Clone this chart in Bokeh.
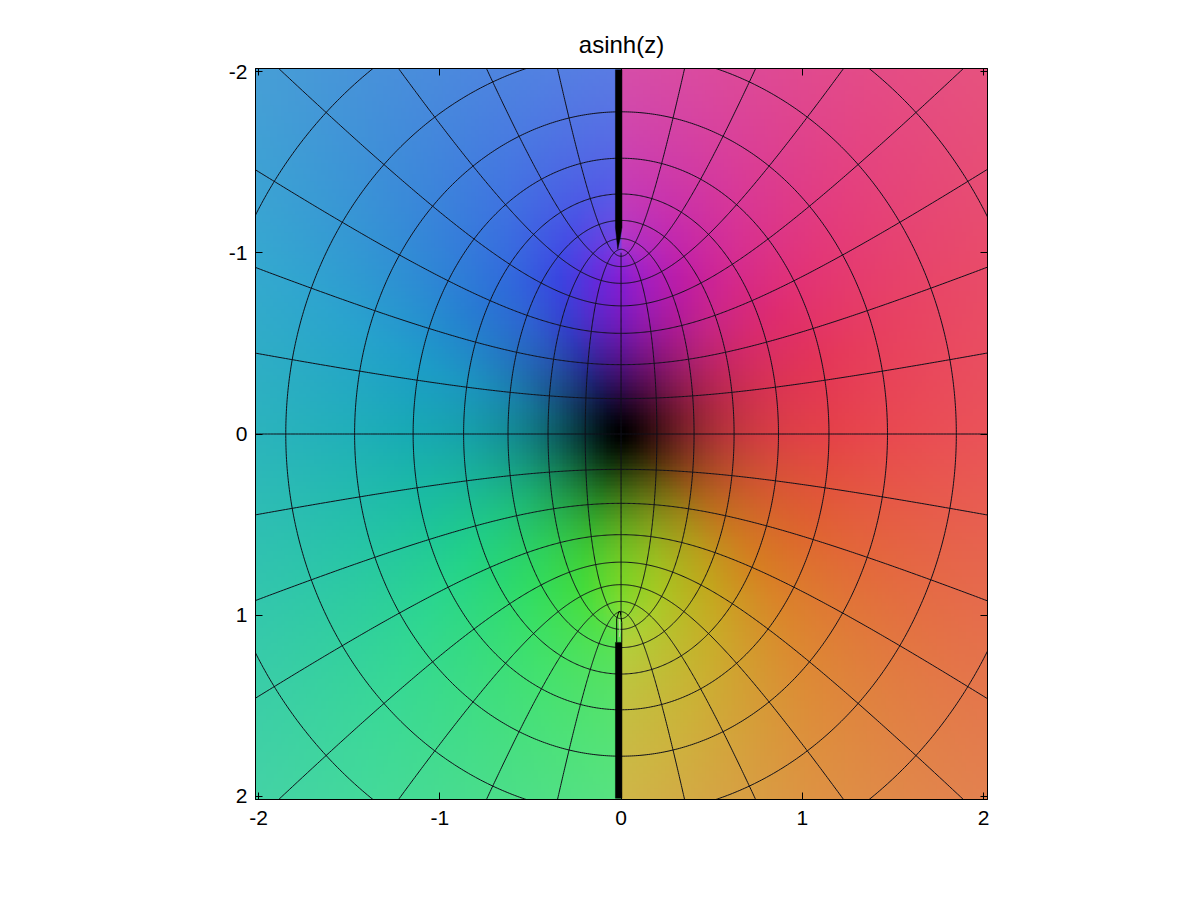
import numpy as np
from bokeh.plotting import figure
from bokeh.models import Range1d, LinearAxis, FixedTicker, Title
from bokeh.embed import file_html
from bokeh.resources import INLINE

title_text = "asinh(z)"
tick_values = [-2, -1, 0, 1, 2]
tick_labels = {-2: "-2", -1: "-1", 0: "0", 1: "1", 2: "2"}
# Contour levels of Re(w) and Im(w), in multiples of pi/16
re_steps = [-9, -8, -7, -6, -5, -4, -3, -2, -1, 0, 1, 2, 3, 4, 5, 6, 7, 8, 9]
im_steps = [-7, -6, -5, -4, -3, -2, -1, 0, 1, 2, 3, 4, 5, 6, 7]
level_unit = np.pi / 16
# Branch cut artefacts (plot coordinates)
cut_top_x = [-0.031, 0.005, 0.005, -0.005, -0.018, -0.031]
cut_top_y = [-2.01, -2.01, -1.14, -1.08, -1.02, -1.14]
cut_bot_x = [-0.031, 0.005, 0.005, -0.031]
cut_bot_y = [1.15, 1.15, 2.01, 2.01]
slit_x = [-0.010, -0.006, -0.010]
slit_y = [1.02, 1.09, 1.12]
slit_left_x = [-0.024, -0.024, -0.012, -0.004, 0.004, 0.004]
slit_left_y = [1.15, 1.02, 0.98, 0.98, 1.04, 1.15]
# Colour: hue angle of w against RGB at moderate |w|
hue_deg = [0, 20, 35, 50, 70, 90, 110, 130, 150, 165, 180, 195, 210, 225, 240, 255, 270, 285, 300, 315, 330, 345, 360]
hue_r = [235, 228, 220, 200, 170, 125, 70, 50, 35, 28, 25, 30, 40, 50, 60, 100, 135, 170, 195, 215, 228, 233, 235]
hue_g = [68, 100, 130, 170, 205, 220, 225, 225, 215, 195, 175, 160, 130, 105, 70, 45, 30, 30, 30, 40, 45, 55, 68]
hue_b = [75, 50, 35, 30, 35, 40, 60, 100, 140, 165, 185, 205, 215, 225, 230, 225, 215, 195, 170, 145, 115, 90, 75]

xmin, xmax = -2.017, 2.022
ymin, ymax = -2.017, 2.017
N = 200

xs = np.linspace(xmin, xmax, N)
ys = np.linspace(ymin, ymax, N)
X, Y = np.meshgrid(xs, ys)
W = np.arcsinh(X + 1j * Y)
r = np.abs(W)
H = np.degrees(np.angle(W)) % 360
F = 1 - np.exp(-(r / 0.42) ** 1.5)
K = np.clip((r - 1.0) * 0.2, 0, 0.4)

img = np.zeros((N, N), dtype=np.uint32)
view = img.view(dtype=np.uint8).reshape((N, N, 4))
for idx, table in enumerate((hue_r, hue_g, hue_b)):
    base = np.interp(H, hue_deg, table)
    view[..., idx] = np.clip((base * (1 - K) + 232 * K) * F, 0, 255).astype(np.uint8)
view[..., 3] = 255

p = figure(width=1184, height=884, output_backend="svg", toolbar_location=None,
           x_range=Range1d(xmin, xmax), y_range=Range1d(ymax, ymin),
           min_border_left=255, min_border_right=197, min_border_top=68, min_border_bottom=85,
           x_axis_location="below", y_axis_location="left")
p.background_fill_color = None
p.border_fill_color = "white"
p.grid.visible = False
p.outline_line_color = "black"
p.outline_line_width = 1

p.image_rgba(image=[img], x=xmin, y=ymin, dw=xmax - xmin, dh=ymax - ymin)

# Lines of constant Re(w) (ellipses) and constant Im(w) (hyperbolas)
b_param = np.linspace(-np.pi / 2, np.pi / 2, 400)
a_param = np.linspace(-2.2, 2.2, 600)
xl, yl = [], []
for k in re_steps:
    a = k * level_unit
    xl.append(np.sinh(a) * np.cos(b_param))
    yl.append(np.cosh(a) * np.sin(b_param))
for k in im_steps:
    b = k * level_unit
    xl.append(np.sinh(a_param) * np.cos(b))
    yl.append(np.cosh(a_param) * np.sin(b))
p.multi_line(xl, yl, line_color="#10101a", line_width=1)

# Branch cuts
p.patch(cut_top_x, cut_top_y, fill_color="black", line_color="black", line_width=0.5)
p.patch(cut_bot_x, cut_bot_y, fill_color="black", line_color="black", line_width=0.5)
p.line(slit_left_x, slit_left_y, line_color="black", line_width=1)
p.line(slit_x, slit_y, line_color="#c8d8a0", line_width=1)

for ax in (p.xaxis[0], p.yaxis[0]):
    ax.ticker = FixedTicker(ticks=tick_values)
    ax.major_label_overrides = tick_labels
    ax.major_tick_in = 7
    ax.major_tick_out = 0
    ax.minor_tick_in = 0
    ax.minor_tick_out = 0
    ax.major_label_text_font = "Liberation Sans"
    ax.major_label_text_font_size = "21px"
    ax.major_label_text_color = "black"
    ax.axis_line_color = "black"
    ax.major_tick_line_color = "black"
p.xaxis[0].major_label_standoff = 11
p.yaxis[0].major_label_standoff = 8

top = LinearAxis(ticker=FixedTicker(ticks=tick_values), major_tick_in=7, major_tick_out=0,
                 minor_tick_in=0, minor_tick_out=0, major_label_text_font_size="0px",
                 major_label_text_color=None)
right = LinearAxis(ticker=FixedTicker(ticks=tick_values), major_tick_in=7, major_tick_out=0,
                   minor_tick_in=0, minor_tick_out=0, major_label_text_font_size="0px",
                   major_label_text_color=None)
p.add_layout(top, "above")
p.add_layout(right, "right")

p.title = Title(text=title_text, align="center", text_font="Liberation Sans",
                text_font_size="24px", text_font_style="normal", text_color="black", standoff=22)
p.title_location = "above"

open("out.html", "w").write(file_html(p, INLINE))
